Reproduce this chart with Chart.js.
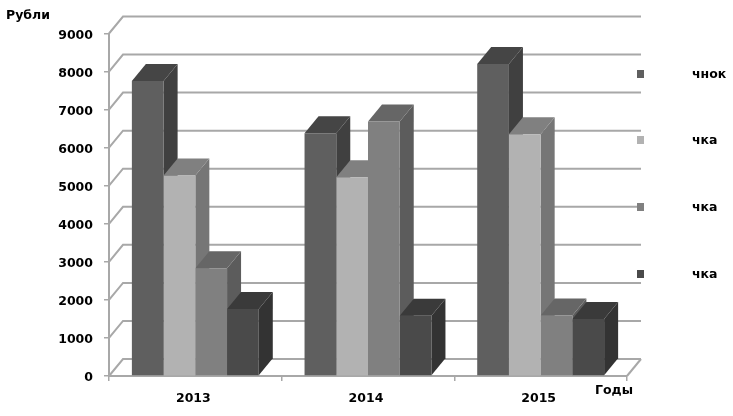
<!DOCTYPE html>
<html>
<head>
<meta charset="utf-8">
<title>Рубли по годам</title>
<script src="https://cdn.jsdelivr.net/npm/chart.js@4"></script>
<style>
  html, body { margin: 0; padding: 0; background: #fff; }
  #wrap { width: 733px; height: 416px; }
  canvas { filter: blur(0.35px); }
</style>
</head>
<body>
<div id="wrap"><canvas id="myChart"></canvas></div>
<script>
const years = ['2013', '2014', '2015'];
const seriesNames = ['чнок', 'чка', 'чка', 'чка'];
const series1 = [7750, 6380, 8200];
const series2 = [5270, 5220, 6350];
const series3 = [2830, 6690, 1590];
const series4 = [1760, 1580, 1500];
const yTitle = 'Рубли';
const xTitle = 'Годы';

const allSeries = [series1, series2, series3, series4];
const frontColors = ['#5f5f5f', '#b2b2b2', '#808080', '#4a4a4a'];
const topColors = ['#454545', '#808080', '#666666', '#3a3a3a'];
const sideColors = ['#404040', '#767676', '#5c5c5c', '#333333'];

const depthX = 14;
const depthY = 17;
const lineColor = '#a8a8a8';
const labelFont = 'bold 12.5px "DejaVu Sans"';

function poly(ctx, pts, color) {
  ctx.fillStyle = color;
  ctx.beginPath();
  ctx.moveTo(pts[0][0], pts[0][1]);
  for (let i = 1; i < pts.length; i++) ctx.lineTo(pts[i][0], pts[i][1]);
  ctx.closePath();
  ctx.fill();
}

// back wall lines and the diagonals that lead to them
const wallPlugin = {
  id: 'wall',
  beforeDatasetsDraw(chart) {
    const { ctx, chartArea, scales } = chart;
    ctx.save();
    ctx.strokeStyle = lineColor;
    ctx.lineWidth = 2;
    scales.y.ticks.forEach(t => {
      const y = scales.y.getPixelForValue(t.value);
      ctx.beginPath();
      ctx.moveTo(chartArea.left, y);
      ctx.lineTo(chartArea.left + depthX, y - depthY);
      ctx.lineTo(chartArea.right + depthX, y - depthY);
      ctx.stroke();
    });
    // right end of the floor
    ctx.beginPath();
    ctx.moveTo(chartArea.right, chartArea.bottom);
    ctx.lineTo(chartArea.right + depthX, chartArea.bottom - depthY);
    ctx.stroke();

    // sides and tops of the bars, front faces come from chart.js
    chart.data.datasets.forEach((ds, i) => {
      chart.getDatasetMeta(i).data.forEach(bar => {
        const r = bar.x + bar.width / 2;
        const l = bar.x - bar.width / 2;
        const t = bar.y;
        const b = bar.base;
        poly(ctx, [[r, t], [r + depthX, t - depthY], [r + depthX, b - depthY], [r, b]], sideColors[i]);
        poly(ctx, [[l, t], [l + depthX, t - depthY], [r + depthX, t - depthY], [r, t]], topColors[i]);
      });
    });
    ctx.restore();
  }
};

// axis titles and the legend on the right
const textPlugin = {
  id: 'texts',
  afterDraw(chart) {
    const { ctx } = chart;
    ctx.save();
    ctx.fillStyle = '#000';
    ctx.font = labelFont;
    ctx.textBaseline = 'middle';
    ctx.fillText(yTitle, 6, 16);
    ctx.fillText(xTitle, 595, 391);
    const legendY = [74, 140, 207, 274];
    seriesNames.forEach((name, i) => {
      ctx.fillStyle = frontColors[i];
      ctx.fillRect(637, legendY[i] - 4, 7, 8);
      ctx.fillStyle = '#000';
      ctx.fillText(name, 692, legendY[i] + 1);
    });
    ctx.restore();
  }
};

new Chart(document.getElementById('myChart'), {
  type: 'bar',
  data: {
    labels: years,
    datasets: allSeries.map((vals, i) => ({
      label: seriesNames[i],
      data: vals,
      backgroundColor: frontColors[i],
      borderWidth: 0,
      barPercentage: 1,
      categoryPercentage: 0.735
    }))
  },
  options: {
    responsive: true,
    maintainAspectRatio: false,
    animation: false,
    layout: { padding: { top: 33.5, right: 106, left: 0, bottom: 0 } },
    plugins: { legend: { display: false }, title: { display: false }, tooltip: { enabled: false } },
    scales: {
      x: {
        afterFit(s) { s.height = 40; },
        grid: { drawOnChartArea: false, color: lineColor, lineWidth: 1.5, tickLength: 5 },
        border: { color: lineColor, width: 2 },
        ticks: { color: '#000', font: { family: 'DejaVu Sans', weight: 'bold', size: 12.5 }, padding: 10, maxRotation: 0, labelOffset: -2 }
      },
      y: {
        min: 0,
        max: 9000,
        afterFit(s) { s.width = 109; },
        grid: { drawOnChartArea: false, color: lineColor, lineWidth: 1.5, tickLength: 5 },
        border: { color: lineColor, width: 2 },
        ticks: { stepSize: 1000, color: '#000', font: { family: 'DejaVu Sans', weight: 'bold', size: 12.5 }, padding: 11, labelOffset: 2, callback: v => String(v) }
      }
    }
  },
  plugins: [wallPlugin, textPlugin]
});
</script>
</body>
</html>
